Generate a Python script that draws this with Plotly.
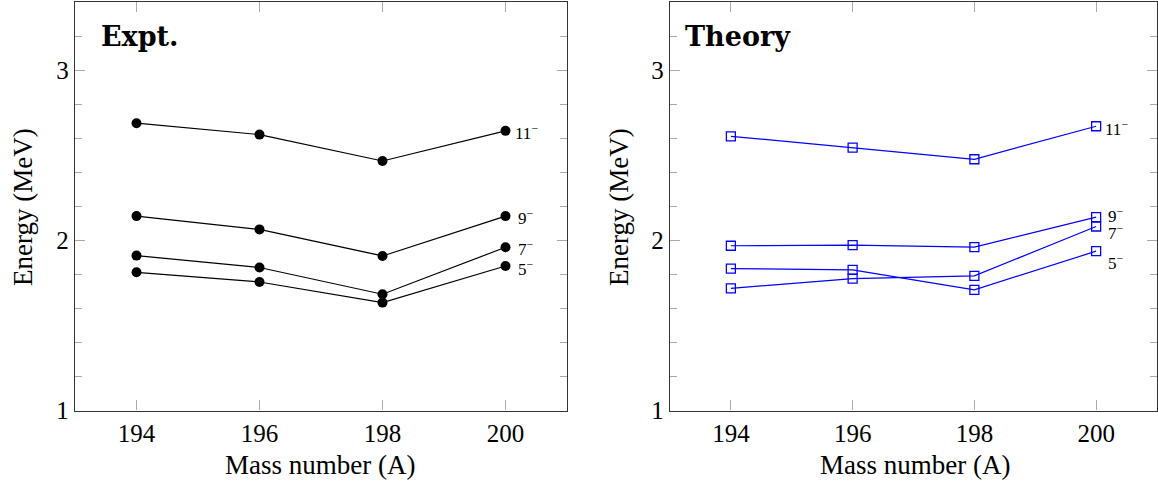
import plotly.graph_objects as go

mass = [194, 196, 198, 200]
levels = ["5<sup>−</sup>", "7<sup>−</sup>", "9<sup>−</sup>", "11<sup>−</sup>"]

expt_5 = [1.812, 1.755, 1.634, 1.849]
expt_7 = [1.910, 1.840, 1.683, 1.959]
expt_9 = [2.142, 2.064, 1.908, 2.142]
expt_11 = [2.688, 2.621, 2.466, 2.643]

theo_5 = [1.834, 1.826, 1.709, 1.936]
theo_7 = [1.718, 1.775, 1.791, 2.081]
theo_9 = [1.968, 1.972, 1.960, 2.136]
theo_11 = [2.611, 2.545, 2.476, 2.670]

expt = [expt_5, expt_7, expt_9, expt_11]
theo = [theo_5, theo_7, theo_9, theo_11]

# label offsets (px) for the end-of-line level labels
label_dx = [10, 10, 10, 7]
expt_dy = [-2, -1, -1, -1]
theo_dy = [-11, -5, 2, -2]

FONT = "Liberation Serif"
BFONT = "DejaVu Serif"
W, H = 1158, 482


def px(x):
    return x / W


def py(y):
    return 1 - y / H


fig = go.Figure()

for lab, ys in zip(levels, expt):
    fig.add_trace(go.Scatter(x=mass, y=ys, mode="lines+markers", xaxis="x", yaxis="y",
                             line=dict(color="black", width=1.2),
                             marker=dict(symbol="circle", size=10, color="black"),
                             showlegend=False, name=lab))
for lab, ys in zip(levels, theo):
    fig.add_trace(go.Scatter(x=mass, y=ys, mode="lines+markers", xaxis="x2", yaxis="y2",
                             line=dict(color="blue", width=1.2),
                             marker=dict(symbol="square-open", size=9, color="blue",
                                         line=dict(width=1.3, color="blue")),
                             showlegend=False, name=lab))

annotations = []
for lab, ys, dx, dy in zip(levels, expt, label_dx, expt_dy):
    annotations.append(dict(x=mass[-1], y=ys[-1], xref="x", yref="y", text=lab,
                            showarrow=False, xanchor="left", yanchor="middle", xshift=dx, yshift=dy,
                            font=dict(family=FONT, size=17, color="black")))
for lab, ys, dx, dy in zip(levels, theo, label_dx, theo_dy):
    annotations.append(dict(x=mass[-1], y=ys[-1], xref="x2", yref="y2", text=lab,
                            showarrow=False, xanchor="left", yanchor="middle", xshift=dx, yshift=dy,
                            font=dict(family=FONT, size=17, color="black")))

annotations += [
    dict(x=px(99), y=py(37), xref="paper", yref="paper", text="<b>Expt.</b>",
         showarrow=False, xanchor="left", yanchor="middle",
         font=dict(family=BFONT, size=27, color="black")),
    dict(x=px(683), y=py(37), xref="paper", yref="paper", text="<b>Theory</b>",
         showarrow=False, xanchor="left", yanchor="middle",
         font=dict(family=BFONT, size=27, color="black")),
    dict(x=px(320), y=py(465), xref="paper", yref="paper", text="Mass number (A)",
         showarrow=False, xanchor="center", yanchor="middle",
         font=dict(family=FONT, size=27, color="black")),
    dict(x=px(915), y=py(465), xref="paper", yref="paper", text="Mass number (A)",
         showarrow=False, xanchor="center", yanchor="middle",
         font=dict(family=FONT, size=27, color="black")),
    dict(x=px(23), y=py(207), xref="paper", yref="paper", text="Energy (MeV)",
         showarrow=False, xanchor="center", yanchor="middle", textangle=-90,
         font=dict(family=FONT, size=27, color="black")),
    dict(x=px(619), y=py(207), xref="paper", yref="paper", text="Energy (MeV)",
         showarrow=False, xanchor="center", yanchor="middle", textangle=-90,
         font=dict(family=FONT, size=27, color="black")),
]

TICKC = "#aaaaaa"
xcommon = dict(range=[193, 201], tickvals=[194, 196, 198, 200], ticks="inside", ticklen=10,
               tickcolor=TICKC, tickwidth=1, showgrid=False, zeroline=False, showline=True,
               linecolor="#333333", linewidth=1.3, mirror="allticks", automargin=False,
               ticklabelstandoff=0,
               tickfont=dict(family=FONT, size=25, color="black"))
ycommon = dict(range=[1, 3.4], tickvals=[1, 2, 3], ticks="inside", ticklen=10,
               tickcolor=TICKC, tickwidth=1, showgrid=False, zeroline=False, showline=True,
               linecolor="#333333", linewidth=1.3, mirror="allticks", automargin=False,
               minor=dict(tickvals=[1.2, 1.4, 1.6, 1.8, 2.2, 2.4, 2.6, 2.8, 3.2],
                          ticks="inside", ticklen=7, tickcolor=TICKC, tickwidth=1),
               tickfont=dict(family=FONT, size=25, color="black"))

fig.update_layout(
    width=W, height=H,
    margin=dict(l=0, r=0, t=0, b=0, autoexpand=False),
    paper_bgcolor="white", plot_bgcolor="white",
    xaxis=dict(domain=[px(75), px(567)], anchor="y", **xcommon),
    yaxis=dict(domain=[py(410.5), py(2)], anchor="x", **ycommon),
    xaxis2=dict(domain=[px(670), px(1157)], anchor="y2", **xcommon),
    yaxis2=dict(domain=[py(410.5), py(2)], anchor="x2", **ycommon),
    annotations=annotations,
)

fig.write_html("out.html", config={"displayModeBar": False},
               post_script="document.body.style.margin='0';")
